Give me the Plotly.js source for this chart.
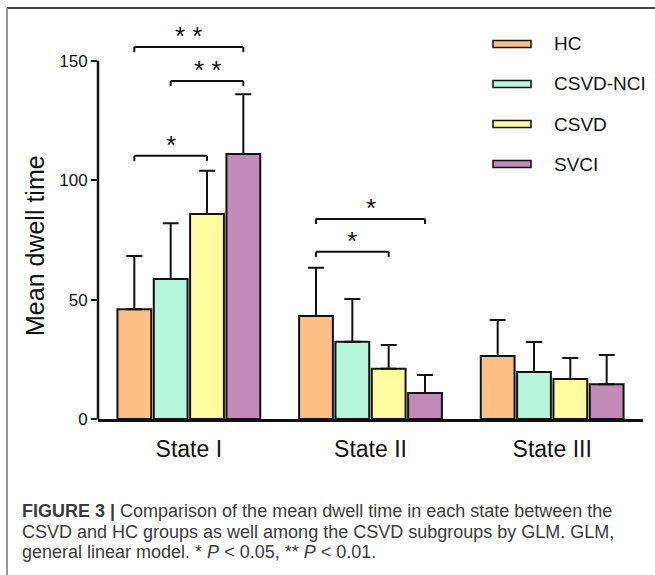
<!DOCTYPE html>
<html>
<head>
<meta charset="utf-8">
<script src="https://cdn.plot.ly/plotly-3.0.1.min.js"></script>
<style>html,body{margin:0;padding:0;background:#fff;}#chart{width:655px;height:575px;}</style>
</head>
<body>
<div id="chart"></div>
<script>
// ---- data ----
const categories = ['State I', 'State II', 'State III'];
const groupNames = ['HC', 'CSVD-NCI', 'CSVD', 'SVCI'];
const hcMean      = [46.0, 43.1, 26.4];
const hcSD        = [22.3, 20.2, 15.1];
const csvdNciMean = [58.6, 32.3, 19.7];
const csvdNciSD   = [23.4, 18.0, 12.5];
const csvdMean    = [85.9, 21.0, 16.8];
const csvdSD      = [18.1, 10.0, 8.7];
const svciMean    = [111.0, 10.9, 14.6];
const svciSD      = [25.0, 7.5, 12.2];
const yTicks      = [0, 50, 100, 150];
const yTitle      = 'Mean dwell time';
// significance brackets: category index, from group, to group, bracket height, label
const sigCategory = [0, 0, 0, 1, 1];
const sigFrom     = [0, 1, 0, 0, 0];
const sigTo       = [3, 3, 2, 3, 2];
const sigHeight   = [155.8, 141.6, 110.2, 83.8, 70.0];
const sigLabel    = ['* *', '* *', '*', '*', '*'];
const captionBold = 'FIGURE 3 |';
const captionLines = [
  ' Comparison of the mean dwell time in each state between the',
  'CSVD and HC groups as well among the CSVD subgroups by GLM. GLM,',
  'general linear model. * <i>P</i> &lt; 0.05, ** <i>P</i> &lt; 0.01.'
];

// ---- styling ----
const colors = ['#FDBF84', '#B4F5DC', '#FFFC9F', '#C28AB7'];
const FONT = 'Liberation Sans, Arial, sans-serif';
const L = 98, R = 643, B = 419, T = 25, W = R - L, H = B - T;
const px = v => (v - L) / W;          // pixel x -> paper x
const py = v => (B - v) / H;          // pixel y -> paper y
const bargap = 0.2, nG = groupNames.length;
const slot = (1 - bargap) / nG;
const groupX = (c, g) => c + (g - (nG - 1) / 2) * slot;
const tickUnits = 5 * 165 / H;        // 5px bracket end ticks in data units

const means = [hcMean, csvdNciMean, csvdMean, svciMean];
const sds = [hcSD, csvdNciSD, csvdSD, svciSD];

const traces = groupNames.map((name, i) => ({
  type: 'bar',
  name: name,
  x: categories,
  y: means[i],
  marker: {color: colors[i], line: {color: '#111', width: 2}},
  error_y: {type: 'data', symmetric: false, array: sds[i], arrayminus: sds[i].map(() => 0),
            color: '#111', thickness: 2, width: 8},
  showlegend: false,
  hoverinfo: 'skip'
}));

const shapes = [];
const annotations = [];

// y axis line (0..150)
shapes.push({type: 'line', xref: 'paper', yref: 'y', x0: 0, x1: 0, y0: 0, y1: 150,
             line: {color: '#111', width: 2.5}});

// y axis title
annotations.push({xref: 'paper', yref: 'paper', x: px(35), y: py(246), text: yTitle,
  textangle: -90, showarrow: false, xanchor: 'center', yanchor: 'middle',
  font: {family: FONT, size: 25, color: '#111'}});

// significance brackets
sigCategory.forEach((c, k) => {
  const xa = groupX(c, sigFrom[k]), xb = groupX(c, sigTo[k]), y = sigHeight[k];
  const ln = {color: '#111', width: 2};
  shapes.push({type: 'line', xref: 'x', yref: 'y', x0: xa, x1: xb, y0: y, y1: y, line: ln});
  shapes.push({type: 'line', xref: 'x', yref: 'y', x0: xa, x1: xa, y0: y, y1: y - tickUnits, line: ln});
  shapes.push({type: 'line', xref: 'x', yref: 'y', x0: xb, x1: xb, y0: y, y1: y - tickUnits, line: ln});
  annotations.push({xref: 'x', yref: 'y', x: (xa + xb) / 2, y: y, text: sigLabel[k],
    showarrow: false, xanchor: 'center', yanchor: 'bottom', yshift: -6,
    font: {family: FONT, size: 26, color: '#111'}});
});

// custom legend
groupNames.forEach((name, i) => {
  const cy = 44 + i * 40;
  shapes.push({type: 'rect', xref: 'paper', yref: 'paper',
    x0: px(493), x1: px(531), y0: py(cy + 3.5), y1: py(cy - 3.5),
    fillcolor: colors[i], line: {color: '#111', width: 1.5}});
  annotations.push({xref: 'paper', yref: 'paper', x: px(552), y: py(cy), text: name,
    showarrow: false, xanchor: 'left', yanchor: 'middle',
    font: {family: FONT, size: 19, color: '#111'}});
});

// frame
shapes.push({type: 'line', xref: 'paper', yref: 'paper', x0: px(7), x1: px(656), y0: py(8), y1: py(8),
             line: {color: '#444', width: 2}});
shapes.push({type: 'line', xref: 'paper', yref: 'paper', x0: px(7), x1: px(7), y0: py(8), y1: py(576),
             line: {color: '#999', width: 2}});

// caption
captionLines.forEach((t, i) => {
  annotations.push({xref: 'paper', yref: 'paper', x: px(20), y: py(511 + i * 20.5),
    text: (i === 0 ? '<b>' + captionBold + '</b>' : '') + t,
    showarrow: false, xanchor: 'left', yanchor: 'middle', align: 'left',
    font: {family: FONT, size: 18, color: '#3a3a3a'}});
});

const layout = {
  width: 655, height: 575,
  margin: {l: L, r: 655 - R, t: T, b: 575 - B},
  paper_bgcolor: '#fff', plot_bgcolor: '#fff',
  barmode: 'group', bargap: bargap, bargroupgap: 0.07,
  showlegend: false,
  font: {family: FONT, color: '#111'},
  xaxis: {
    type: 'category', showline: true, linecolor: '#111', linewidth: 2.5,
    ticks: '', showgrid: false, zeroline: false, fixedrange: true,
    tickfont: {family: FONT, size: 23, color: '#111'}, ticklabelstandoff: 8
  },
  yaxis: {
    range: [0, 165], showline: false, ticks: 'outside', ticklen: 6, tickwidth: 2, tickcolor: '#111',
    tickvals: yTicks, ticktext: yTicks.map(String), showgrid: false, zeroline: false,
    tickfont: {family: FONT, size: 17, color: '#111'}
  },
  shapes: shapes,
  annotations: annotations
};

Plotly.newPlot('chart', traces, layout, {displayModeBar: false, staticPlot: true});
</script>
</body>
</html>
